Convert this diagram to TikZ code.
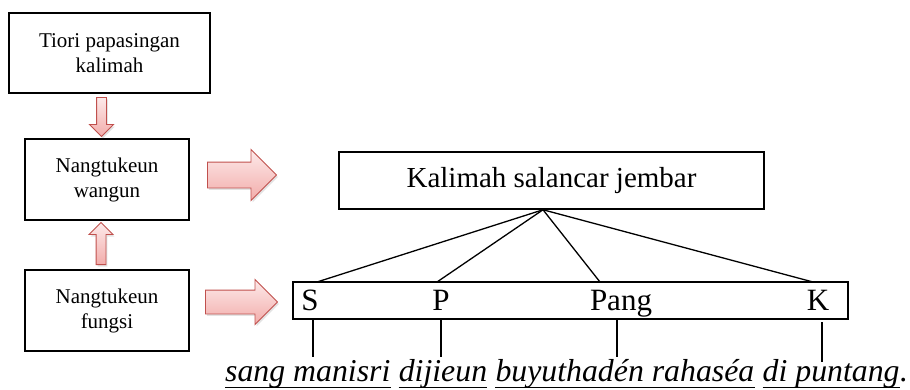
\documentclass[tikz,border=0pt]{standalone}
\usepackage{fontspec}
\setmainfont{Liberation Serif}
\usetikzlibrary{shapes.arrows,shadows,calc}
\definecolor{arrowedge}{RGB}{192,80,77}
\definecolor{arrowtop}{RGB}{253,234,234}
\definecolor{arrowbot}{RGB}{242,172,170}
\tikzset{
  box/.style={draw, line width=1.5pt, inner sep=0pt, align=center, font=\fontsize{21}{25}\selectfont},
  bigbox/.style={draw, line width=1.5pt, inner sep=0pt},
  blockarrow/.style={single arrow, draw=arrowedge, line width=0.9pt, top color=arrowtop, bottom color=arrowbot,
    single arrow tip angle=90, minimum width=0pt, anchor=tail,
    drop shadow={opacity=0.22, shadow xshift=1.5pt, shadow yshift=-2pt}},
  link/.style={line width=1.3pt},
  letter/.style={anchor=base, inner sep=0pt, font=\fontsize{31}{36}\selectfont},
  word/.style={anchor=base west, inner sep=0pt, font=\fontsize{31.8}{36}\selectfont\itshape},
  uline/.style={line width=1.3pt},
}
\begin{document}
\begin{tikzpicture}[x=1pt,y=-1pt]
\useasboundingbox (0,0) rectangle (910,389);

% left boxes
\node[box, minimum width=201pt, minimum height=80pt] (t1) at (109.5,53) {Tiori papasingan\\kalimah};
\node[box, minimum width=164pt, minimum height=81pt] (t2) at (107,179.5) {Nangtukeun\\wangun};
\node[box, minimum width=164pt, minimum height=81pt] (t3) at (107,310.5) {Nangtukeun\\fungsi};

% block arrows
\node[blockarrow, inner sep=4.5pt, single arrow head extend=7pt, minimum height=39pt, shape border rotate=270] (a1) at (101.5,97) {};
\node[blockarrow, inner sep=4.5pt, single arrow head extend=7pt, minimum height=42pt, shape border rotate=90] (a2) at (101,265) {};
\node[blockarrow, inner sep=12.5pt, single arrow head extend=12.5pt, minimum height=69pt] (a3) at (207,175) {};
\node[blockarrow, inner sep=11.5pt, single arrow head extend=10.5pt, minimum height=72pt] (a4) at (205,302) {};

% right structure
\node[bigbox, minimum width=425pt, minimum height=57pt, font=\fontsize{29}{34}\selectfont] (kal) at (551.5,180.5) {Kalimah salancar jembar};
\node[bigbox, minimum width=555pt, minimum height=37pt] (spk) at (570.5,300.5) {};
\node[letter] (S) at (310,310) {S};
\node[letter] (P) at (441,310) {P};
\node[letter] (Pang) at (621,310) {Pang};
\node[letter] (K) at (818,310) {K};

\coordinate (apex) at ([xshift=-8.5pt]kal.south);
\coordinate (sTop) at (317,282);
\coordinate (pTop) at (437,282);
\coordinate (gTop) at (600,282);
\coordinate (kTop) at (813,282);
\draw[link] (apex) -- (sTop);
\draw[link] (apex) -- (pTop);
\draw[link] (apex) -- (gTop);
\draw[link] (apex) -- (kTop);

\coordinate (sBot) at (313,357);
\coordinate (pBot) at (441,357);
\coordinate (gBot) at (617,357);
\coordinate (kUp) at (822,322);
\coordinate (kBot) at (822,362);
\draw[link] (spk.south -| sBot) -- (sBot);
\draw[link] (spk.south -| pBot) -- (pBot);
\draw[link] (spk.south -| gBot) -- (gBot);
\draw[link] (kUp) -- (kBot);

% sentence
\node[word] (w1) at (225,381) {sang manisri};
\node[word] (w2) at ([xshift=8pt]w1.base east) {dijieun};
\node[word] (w3) at ([xshift=8pt]w2.base east) {buyuthadén rahaséa};
\node[word] (w4) at ([xshift=8pt]w3.base east) {di puntang};
\node[word] (w5) at (w4.base east) {.};
\foreach \w in {w1,w2,w3,w4}
  \draw[uline] ([yshift=-6.5pt]\w.base west) -- ([yshift=-6.5pt]\w.base east);
\end{tikzpicture}
\end{document}
